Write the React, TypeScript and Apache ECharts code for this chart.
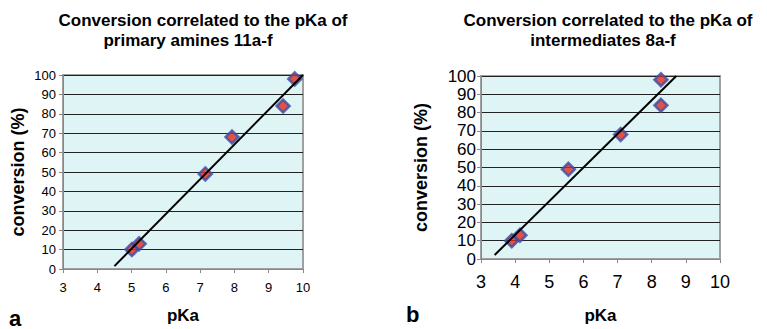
import React, { useEffect, useRef } from "react";
import * as echarts from "echarts";

// Panel a: primary amines 11a-f
const pKaA = [5.01, 5.22, 7.15, 7.93, 9.42, 9.76];
const conversionA = [10, 13, 49, 68, 84, 98];
const trendA = [
  [4.5, 1.5],
  [10, 100],
];

// Panel b: intermediates 8a-f
const pKaB = [3.9, 4.14, 5.56, 7.09, 8.27, 8.27];
const conversionB = [10, 13, 49, 68, 84, 98];
const trendB = [
  [3.4, 2.2],
  [8.72, 100],
];

const xTicks = { min: 3, max: 10, interval: 1 };
const yTicks = { min: 0, max: 100, interval: 10 };

const FONT = "Liberation Sans, Arial, sans-serif";
const PLOT_BG = "#dff4f4";
const MARKER_FILL = "#e2281a";
const MARKER_EDGE = "#3a4ca6";

function xAxisFor(gridIndex: number, fontSize: number, margin: number, nameGap: number) {
  return {
    type: "value",
    gridIndex,
    ...xTicks,
    name: "pKa",
    nameLocation: "middle",
    nameGap,
    nameTextStyle: { fontFamily: FONT, fontWeight: "bold", fontSize: 17, color: "#000" },
    axisLine: { show: true, lineStyle: { color: "#888", width: 1 } },
    axisTick: { show: true, inside: false, length: 4, lineStyle: { color: "#888" } },
    axisLabel: {
      fontFamily: FONT,
      fontSize,
      color: "#000",
      margin,
      showMinLabel: true,
      showMaxLabel: true,
    },
    splitLine: { show: false },
  };
}

function yAxisFor(gridIndex: number, fontSize: number, margin: number, nameGap: number, nameSize: number) {
  return {
    type: "value",
    gridIndex,
    ...yTicks,
    name: "conversion (%)",
    nameLocation: "middle",
    nameRotate: 90,
    nameGap,
    nameTextStyle: { fontFamily: FONT, fontWeight: "bold", fontSize: nameSize, color: "#000" },
    axisLine: { show: true, lineStyle: { color: "#888", width: 1 } },
    axisTick: { show: true, inside: false, length: 4, lineStyle: { color: "#888" } },
    axisLabel: {
      fontFamily: FONT,
      fontSize,
      lineHeight: fontSize,
      color: "#000",
      margin,
      showMinLabel: true,
      showMaxLabel: true,
    },
    splitLine: { show: true, lineStyle: { color: "#222", width: 1 } },
  };
}

function titleText(text: string, x: number, y: number) {
  return {
    type: "text",
    x,
    y,
    style: {
      text,
      fill: "#000",
      font: `bold 17px ${FONT}`,
      textAlign: "center",
      textVerticalAlign: "middle",
    },
  };
}

export default function App() {
  const ref = useRef<HTMLDivElement>(null);

  useEffect(() => {
    if (!ref.current) return;
    const chart = echarts.init(ref.current, null, { renderer: "svg" });

    const scatter = (xs: number[], ys: number[], idx: number) => ({
      type: "scatter",
      xAxisIndex: idx,
      yAxisIndex: idx,
      symbol: "diamond",
      symbolSize: 13,
      itemStyle: { color: MARKER_FILL, borderColor: MARKER_EDGE, borderWidth: 2.5 },
      data: xs.map((x, i) => [x, ys[i]]),
      z: 2,
    });

    const trend = (pts: number[][], idx: number) => ({
      type: "line",
      xAxisIndex: idx,
      yAxisIndex: idx,
      data: pts,
      showSymbol: false,
      symbol: "none",
      lineStyle: { color: "#000", width: 2 },
      z: 3,
    });

    chart.setOption({
      animation: false,
      backgroundColor: "#fff",
      grid: [
        {
          left: 63,
          top: 75,
          width: 240,
          height: 196,
          show: true,
          backgroundColor: PLOT_BG,
          borderColor: "#a0a0a0",
          borderWidth: 2,
        },
        {
          left: 481,
          top: 76,
          width: 239,
          height: 184,
          show: true,
          backgroundColor: PLOT_BG,
          borderColor: "#a0a0a0",
          borderWidth: 2,
        },
      ],
      xAxis: [xAxisFor(0, 13, 12, 38), xAxisFor(1, 18, 14, 48)],
      yAxis: [yAxisFor(0, 13, 7, 36, 18), yAxisFor(1, 17, 5, 51, 18)],
      series: [
        scatter(pKaA, conversionA, 0),
        trend(trendA, 0),
        scatter(pKaB, conversionB, 1),
        trend(trendB, 1),
      ],
      graphic: [
        titleText("Conversion correlated to the pKa of", 203, 20),
        titleText("primary amines 11a-f", 188, 40),
        titleText("Conversion correlated to the pKa of", 608, 20),
        titleText("intermediates 8a-f", 603, 40),
        {
          type: "text",
          x: 9,
          y: 318,
          style: { text: "a", fill: "#000", font: `bold 22px ${FONT}`, textVerticalAlign: "middle" },
        },
        {
          type: "text",
          x: 406,
          y: 314,
          style: { text: "b", fill: "#000", font: `bold 22px ${FONT}`, textVerticalAlign: "middle" },
        },
      ],
    });

    return () => chart.dispose();
  }, []);

  return (
    <div
      ref={ref}
      style={{ position: "absolute", left: 0, top: 0, width: 767, height: 329 }}
    />
  );
}
